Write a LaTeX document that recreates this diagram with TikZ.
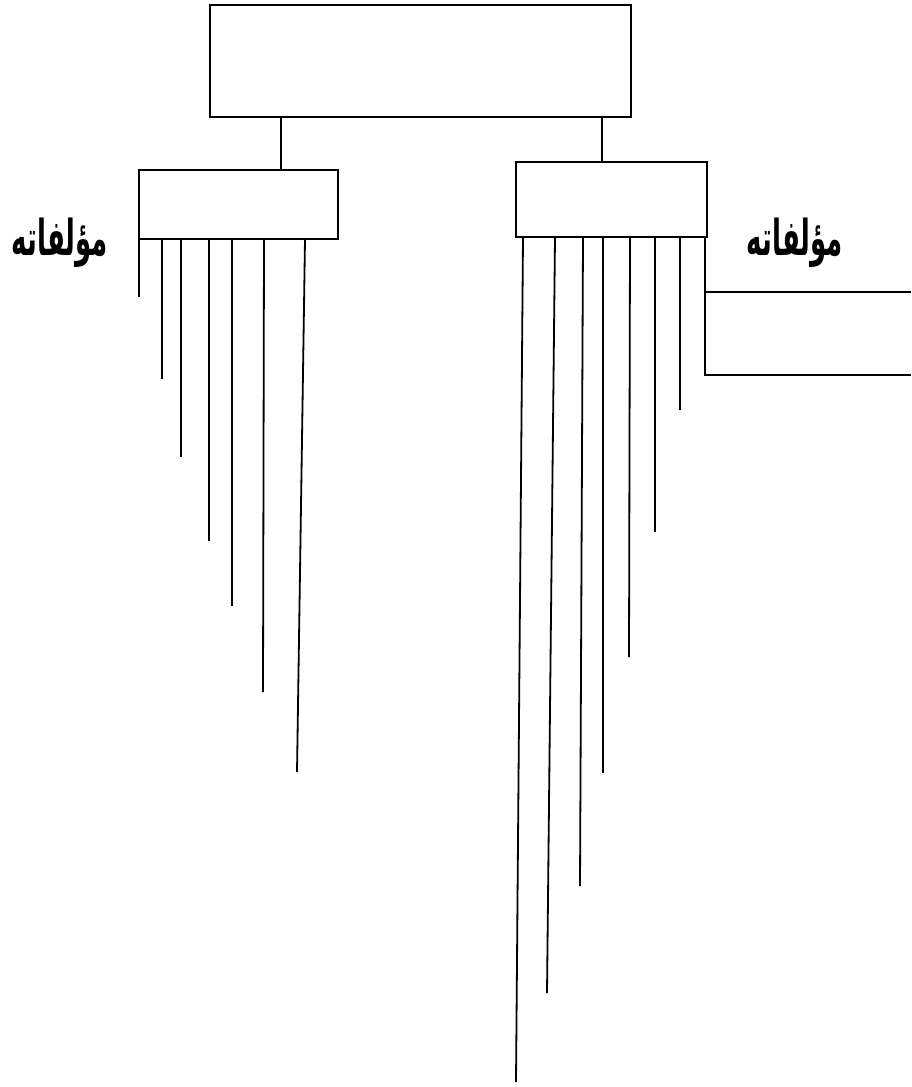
\documentclass[tikz,border=0pt]{standalone}
\usepackage{fontspec}
\usepackage{graphicx}
\TeXXeTstate=1
\newfontfamily\arabicfont[Script=Arabic]{DejaVu Sans}
\newcommand{\arlabel}[1]{\scalebox{1}[1.9]{\arabicfont\bfseries\fontsize{26}{30}\selectfont\beginR #1\endR}}
\begin{document}
\begin{tikzpicture}[x=1pt,y=-1pt,
  box/.style={draw, line width=1.8pt, rectangle, inner sep=0pt},
  ln/.style={line width=1.8pt},
  lbl/.style={inner sep=0pt}]
\useasboundingbox (0,0) rectangle (911,1087);
\node[box, minimum width=421pt, minimum height=112pt] (top) at (420.5,61) {};
\node[box, minimum width=199pt, minimum height=69pt] (lb) at (238.5,204.5) {};
\node[box, minimum width=191pt, minimum height=75pt] (rb) at (611.5,199.5) {};
\coordinate (c1) at (281,170);
\coordinate (c2) at (602,162);
\draw[ln] (top.south -| c1) -- (lb.north -| c1);
\draw[ln] (top.south -| c2) -- (rb.north -| c2);
\foreach \sx/\ex/\ey in {139/139/297, 162/162/379, 181/181/457, 209/209/541, 232/232/606, 264/263/692, 305/297/772}{
  \draw[ln] (lb.south -| \sx,0) -- (\ex,\ey);
}
\foreach \sx/\ex/\ey in {523/516/1082, 555/547/993, 583/580/886, 603/603/773, 630/629/657, 655/655/532, 680/680/410}{
  \draw[ln] (rb.south -| \sx,0) -- (\ex,\ey);
}
\coordinate (b1) at (911,292);
\coordinate (b2) at (911,375);
\draw[ln] (rb.south -| 705,0) -- (705,375) -- (b2);
\draw[ln] (705,292) -- (b1);
\node[lbl] (l1) at (60,243) {\arlabel{مؤلفاته}};
\node[lbl] (l2) at (795,243) {\arlabel{مؤلفاته}};
\end{tikzpicture}
\end{document}
